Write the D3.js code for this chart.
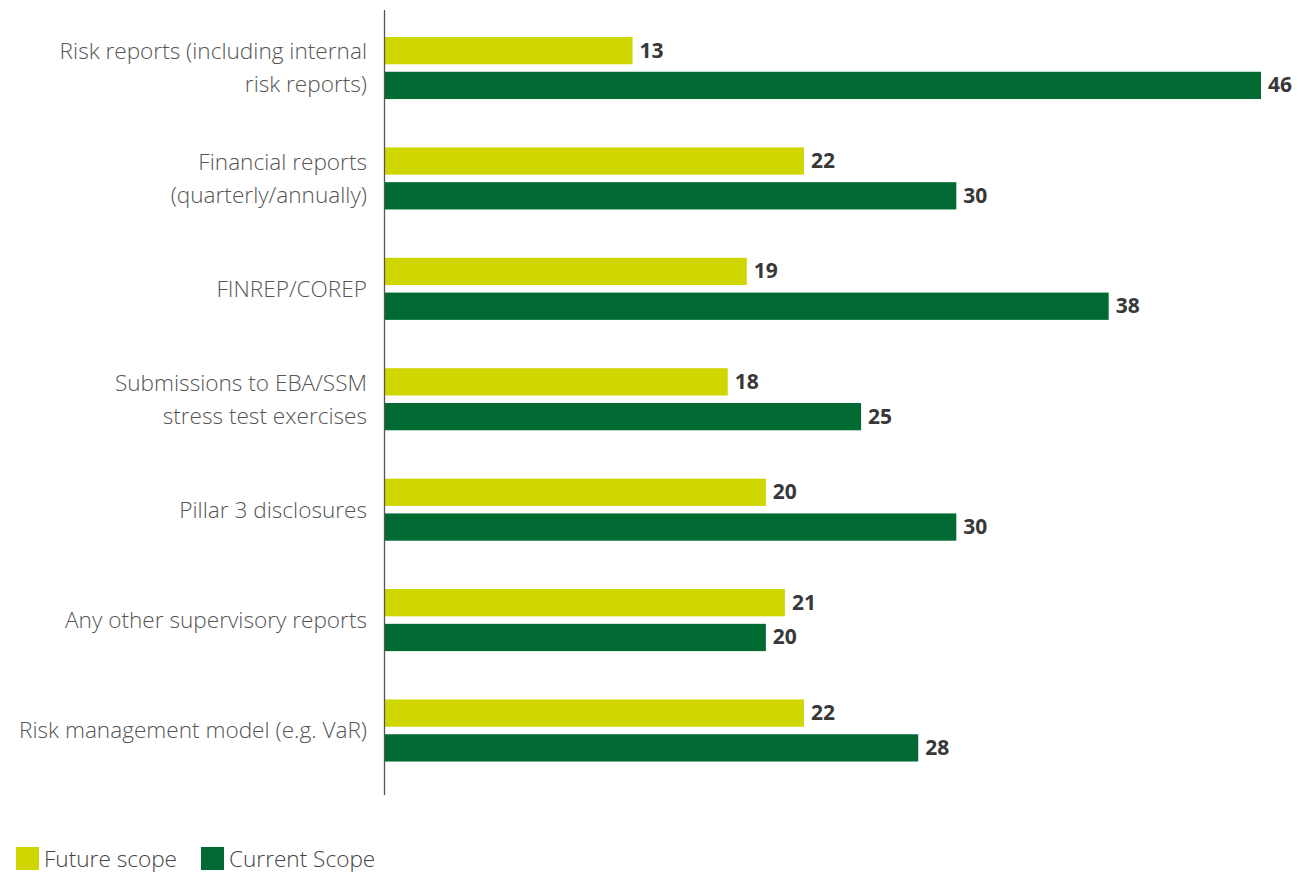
<!DOCTYPE html>
<html><head><meta charset="utf-8">
<script src="https://cdnjs.cloudflare.com/ajax/libs/d3/7.8.5/d3.min.js"></script>
<style>body{margin:0;background:#fff}svg{display:block}</style>
</head><body>
<script>
const categories = [
  ["Risk reports (including internal", "risk reports)"],
  ["Financial reports", "(quarterly/annually)"],
  ["FINREP/COREP"],
  ["Submissions to EBA/SSM", "stress test exercises"],
  ["Pillar 3 disclosures"],
  ["Any other supervisory reports"],
  ["Risk management model (e.g. VaR)"]
];
const seriesNames = ["Future scope", "Current Scope"];
const futureScope = [13, 22, 19, 18, 20, 21, 22];
const currentScope = [46, 30, 38, 25, 30, 20, 28];
const colors = ["#D0D600", "#006A32"];

const W = 1301, H = 875;
const svg = d3.select("body").append("svg").attr("width", W).attr("height", H);
const keys = categories.map((c, i) => i);
const y = d3.scaleBand().domain(keys).range([12.8, 785.7]).paddingInner(0.438).paddingOuter(0.219);
const yi = d3.scaleBand().domain(seriesNames).range([0, y.bandwidth()]).paddingInner(0.216).paddingOuter(0);
const x = d3.scaleLinear().domain([0, 46]).range([385, 1261]);

const data = [futureScope, currentScope];

// bars
const g = svg.append("g");
data.forEach((vals, s) => {
  g.selectAll(".b" + s).data(vals).enter().append("rect")
    .attr("x", x(0))
    .attr("y", (d, i) => y(i) + yi(seriesNames[s]))
    .attr("width", d => x(d) - x(0))
    .attr("height", yi.bandwidth())
    .attr("fill", colors[s]);
  g.selectAll(".v" + s).data(vals).enter().append("text")
    .attr("x", d => x(d) + 7)
    .attr("y", (d, i) => y(i) + yi(seriesNames[s]) + yi.bandwidth() / 2)
    .attr("dy", "0.33em")
    .attr("font-family", "'Open Sans', sans-serif")
    .attr("font-weight", 700)
    .attr("font-size", 21)
    .attr("fill", "#383838")
    .text(d => d);
});

// axis line
svg.append("line").attr("x1", 384.5).attr("x2", 384.5).attr("y1", 10).attr("y2", 795)
  .attr("stroke", "#555").attr("stroke-width", 1.3);

// category labels
categories.forEach((lines, i) => {
  const cy = y(i) + y.bandwidth() / 2;
  const lh = 33;
  const t = svg.append("text")
    .attr("text-anchor", "end")
    .attr("font-family", "'Open Sans', sans-serif")
    .attr("font-weight", 300)
    .attr("font-size", 22.6)
    .attr("fill", "#555");
  lines.forEach((ln, k) => {
    t.append("tspan").attr("x", 367)
      .attr("y", cy - (lines.length - 1) * lh / 2 + k * lh)
      .attr("dy", "0.35em").text(ln);
  });
});

// legend
const legX = [16, 201];
seriesNames.forEach((n, s) => {
  svg.append("rect").attr("x", legX[s]).attr("y", 847).attr("width", 23).attr("height", 23).attr("fill", colors[s]);
  svg.append("text").attr("x", legX[s] + 28).attr("y", 859).attr("dy", "0.35em")
    .attr("font-family", "'Open Sans', sans-serif").attr("font-weight", 300)
    .attr("font-size", 22.6).attr("fill", "#444").text(n);
});
</script>
</body></html>
